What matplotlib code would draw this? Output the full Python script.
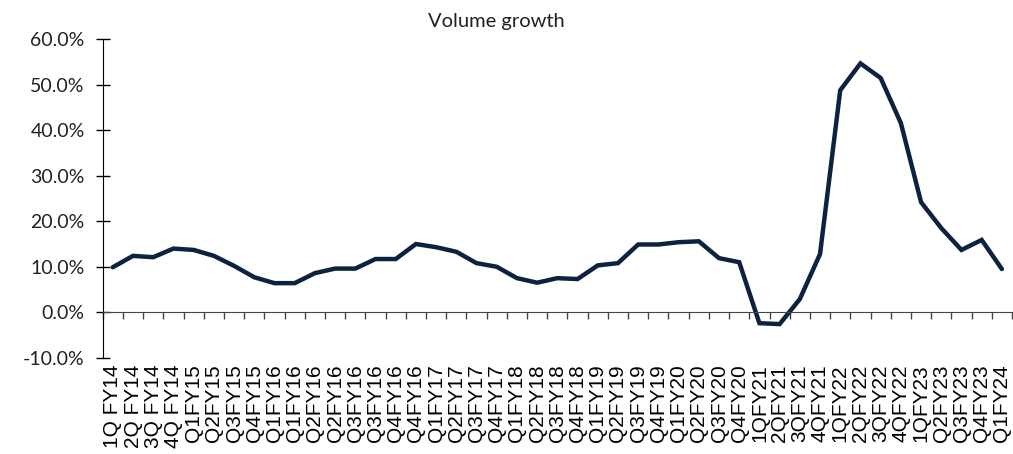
import matplotlib.pyplot as plt
import matplotlib.transforms as mtransforms
from matplotlib.ticker import FuncFormatter

quarters = ["1Q FY14", "2Q FY14", "3Q FY14", "4Q FY14", "Q1FY15", "Q2FY15", "Q3FY15", "Q4FY15",
            "Q1FY16", "Q1FY16", "Q2FY16", "Q2FY16", "Q3FY16", "Q3FY16", "Q4FY16", "Q4FY16",
            "Q1FY17", "Q2FY17", "Q3FY17", "Q4FY17", "Q1FY18", "Q2FY18", "Q3FY18", "Q4FY18",
            "Q1FY19", "Q2FY19", "Q3FY19", "Q4FY19", "Q1FY20", "Q2FY20", "Q3FY20", "Q4FY20",
            "1QFY21", "2QFY21", "3QFY21", "4QFY21", "1QFY22", "2QFY22", "3QFY22", "4QFY22",
            "1QFY23", "Q2FY23", "Q3FY23", "Q4FY23", "Q1FY24"]
growth = [9.9, 12.4, 12.1, 14.0, 13.7, 12.4, 10.2, 7.7, 6.4, 6.4, 8.6, 9.6, 9.6, 11.7, 11.7,
          15.0, 14.3, 13.3, 10.8, 10.0, 7.5, 6.5, 7.5, 7.3, 10.3, 10.8, 14.9, 14.9, 15.4, 15.6,
          11.9, 11.0, -2.4, -2.6, 2.9, 12.8, 48.8, 54.7, 51.5, 41.6, 24.2, 18.5, 13.7, 15.9, 9.5]

fig = plt.figure(figsize=(10.13, 4.54), dpi=100)
ax = fig.add_axes([0.1014, 0.212, 0.8976, 0.7014])

x = list(range(len(quarters)))
ax.plot(x, growth, color="#0d2240", linewidth=3.2, solid_joinstyle="miter", solid_capstyle="round")

ax.set_xlim(-0.5, len(quarters) - 0.5)
ax.set_ylim(-10, 60)
ax.set_yticks(range(-10, 61, 10))
ax.yaxis.set_major_formatter(FuncFormatter(lambda v, p: f"{v:.1f}%"))
for lbl in ax.get_yticklabels():
    lbl.set_fontfamily("Lato")
    lbl.set_fontsize(14)
    lbl.set_color("#222222")
ax.tick_params(axis="y", direction="inout", length=10, width=1, pad=8)

for s in ["top", "right"]:
    ax.spines[s].set_visible(False)
ax.spines["left"].set_color("black")
ax.spines["bottom"].set_position(("data", 0))
ax.spines["bottom"].set_color("#444444")

ax.set_xticks([i - 0.5 for i in range(len(quarters) + 1)])
ax.set_xticklabels([])
ax.tick_params(axis="x", direction="out", length=5, width=1, color="#444444")

trans = mtransforms.blended_transform_factory(ax.transData, ax.transAxes)
offset = mtransforms.ScaledTranslation(0, -5 / 72, fig.dpi_scale_trans)
for i, q in enumerate(quarters):
    ax.text(i, 0, q, transform=trans + offset, rotation=90, ha="center", va="top",
            fontsize=15, fontfamily="Liberation Sans", color="black")

fig.text(0.49, 0.952, "Volume growth", ha="center", va="center", fontsize=14.5,
         fontfamily="Lato", color="#222222")

fig.savefig("out.png", dpi=100)
